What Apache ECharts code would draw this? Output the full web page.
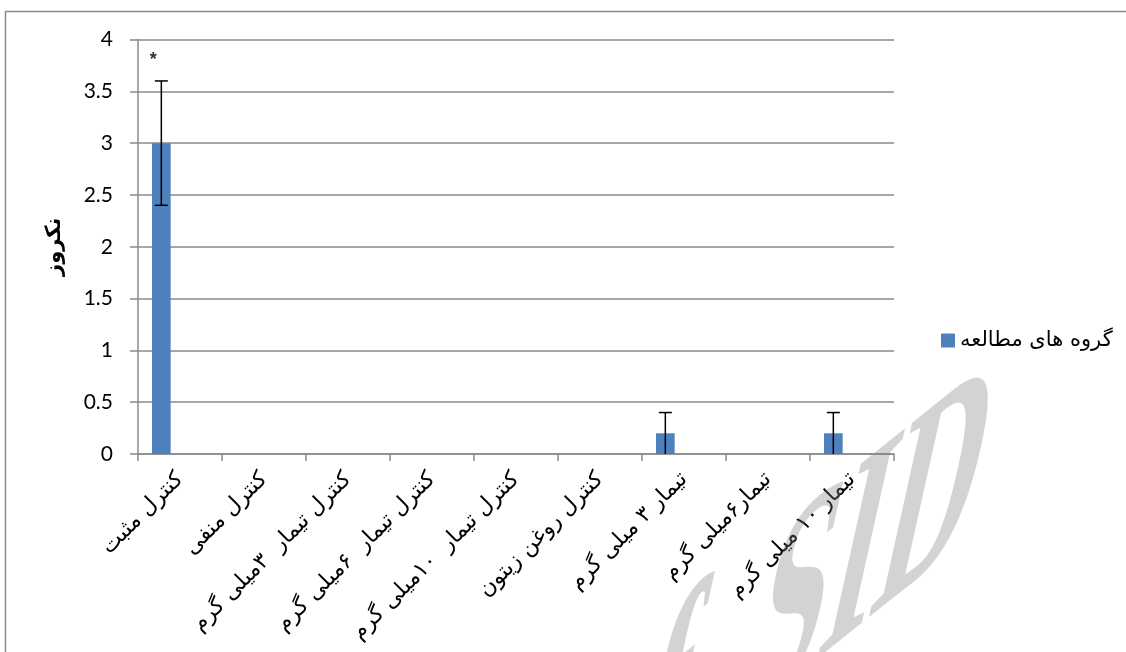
<!DOCTYPE html>
<html>
<head>
<meta charset="utf-8">
<script src="https://cdn.jsdelivr.net/npm/echarts@6/dist/echarts.min.js"></script>
<style>
  html, body { margin: 0; padding: 0; background: #ffffff; }
  #chart { width: 1126px; height: 652px; }
</style>
</head>
<body>
<div id="chart"></div>
<script>
// Study groups (x axis)
const categories = [
  'کنترل مثبت',
  'کنترل منفی',
  'کنترل تیمار  ۳میلی گرم',
  'کنترل تیمار  ۶میلی گرم',
  'کنترل تیمار  ۱۰میلی گرم',
  'کنترل روغن زیتون',
  'تیمار ۳ میلی گرم',
  'تیمار۶میلی گرم',
  'تیمار ۱۰ میلی گرم'
];
// Necrosis score per group, its error and significance mark
const necrosis = [3, 0, 0, 0, 0, 0, 0.2, 0, 0.2];
const errors   = [0.6, 0, 0, 0, 0, 0, 0.2, 0, 0.2];
const marks    = ['*', '', '', '', '', '', '', '', ''];
const yTicks   = { min: 0, max: 4, interval: 0.5 };

const seriesName = 'گروه های مطالعه';
const axisTitle = 'نکروز';

const barColor = '#4f81bd';
const lineGray = '#8a8a8a';
const faFont = 'DejaVu Sans';

// Each bar occupies the first of three slots in its category (150% gap)
function barSlot(api, idx) {
  const band = api.size([1, 0])[0];
  const w = band / 4.5;
  const center = api.coord([idx, 0])[0];
  const x0 = center - band / 2 + w * 0.75;
  return { x0: x0, w: w, mid: x0 + w / 2 };
}

const deg = Math.PI / 180;

const chart = echarts.init(document.getElementById('chart'), null, { renderer: 'canvas' });

chart.setOption({
  backgroundColor: '#ffffff',
  animation: false,
  graphic: [
    {
      type: 'rect',
      silent: true,
      z: -10,
      shape: { x: 5.5, y: 11.5, width: 1200, height: 700 },
      style: { fill: 'none', stroke: lineGray, lineWidth: 1.5 }
    },
    {
      // slanted, stretched watermark: rotate, scale unevenly, rotate again
      type: 'group',
      silent: true,
      z: 100,
      x: 639,
      y: 738,
      rotation: -21.02 * deg,
      scaleX: 0.9055,
      scaleY: 3.0648,
      children: [
        {
          type: 'text',
          x: 0,
          y: 0,
          rotation: 26.8 * deg,
          z: 100,
          style: {
            text: 'f  SID',
            font: 'bold 110px "Liberation Serif", serif',
            fill: 'rgba(120,120,120,0.33)',
            align: 'left',
            verticalAlign: 'middle'
          }
        }
      ]
    }
  ],
  grid: { left: 138, right: 232, top: 39.5, bottom: 198 },
  legend: {
    left: 936,
    top: 325,
    itemWidth: 14,
    itemHeight: 14,
    icon: 'rect',
    itemGap: 6,
    textStyle: { fontFamily: faFont, fontSize: 21, color: '#000' },
    data: [seriesName]
  },
  xAxis: {
    type: 'category',
    data: categories,
    boundaryGap: true,
    axisLine: { lineStyle: { color: lineGray, width: 1.5 } },
    axisTick: { show: true, length: 7, lineStyle: { color: lineGray, width: 1.5 } },
    axisLabel: {
      interval: 0,
      rotate: 45,
      margin: 22,
      fontFamily: faFont,
      fontSize: 22,
      color: '#000'
    },
    splitLine: { show: false }
  },
  yAxis: {
    type: 'value',
    min: yTicks.min,
    max: yTicks.max,
    interval: yTicks.interval,
    name: axisTitle,
    nameLocation: 'middle',
    nameRotate: 90,
    nameGap: 73,
    nameTextStyle: { fontFamily: faFont, fontSize: 21, fontWeight: 'bold', color: '#000' },
    axisLine: { show: true, lineStyle: { color: lineGray, width: 1.5 } },
    axisTick: { show: true, length: 8, lineStyle: { color: lineGray, width: 1.5 } },
    axisLabel: { margin: 25, fontFamily: 'Lato', fontSize: 21, color: '#000' },
    splitLine: { show: true, lineStyle: { color: lineGray, width: 1.5 } }
  },
  series: [
    {
      name: seriesName,
      type: 'custom',
      itemStyle: { color: barColor },
      encode: { x: 0, y: 1 },
      data: necrosis.map((v, i) => [i, v]),
      renderItem: function (params, api) {
        const idx = api.value(0);
        const v = api.value(1);
        if (!v) return null;
        const s = barSlot(api, idx);
        const top = api.coord([idx, v])[1];
        const base = api.coord([idx, 0])[1];
        return {
          type: 'rect',
          shape: { x: s.x0, y: top, width: s.w, height: base - top },
          style: { fill: barColor }
        };
      },
      z: 3
    },
    {
      name: 'error',
      type: 'custom',
      encode: { x: 0, y: [1, 2] },
      data: necrosis.map((v, i) => [i, v - errors[i], v + errors[i], errors[i]]),
      renderItem: function (params, api) {
        const idx = api.value(0);
        const lo = api.value(1);
        const hi = api.value(2);
        const err = api.value(3);
        const children = [];
        const s = barSlot(api, idx);
        const yLo = api.coord([idx, lo])[1];
        const yHi = api.coord([idx, hi])[1];
        const cap = 6.5;
        const stroke = { stroke: '#000', lineWidth: 1.5 };
        if (err > 0) {
          children.push({ type: 'line', shape: { x1: s.mid, y1: yLo, x2: s.mid, y2: yHi }, style: stroke });
          children.push({ type: 'line', shape: { x1: s.mid - cap, y1: yHi, x2: s.mid + cap, y2: yHi }, style: stroke });
          if (lo > 0) {
            children.push({ type: 'line', shape: { x1: s.mid - cap, y1: yLo, x2: s.mid + cap, y2: yLo }, style: stroke });
          }
        }
        const mark = marks[idx];
        if (mark) {
          children.push({
            type: 'text',
            x: s.mid - 8,
            y: yHi - 21,
            style: {
              text: mark,
              font: 'bold 18px "Liberation Sans", sans-serif',
              fill: '#333',
              align: 'center',
              verticalAlign: 'middle'
            }
          });
        }
        return { type: 'group', children: children };
      },
      z: 4
    }
  ]
});
</script>
</body>
</html>
